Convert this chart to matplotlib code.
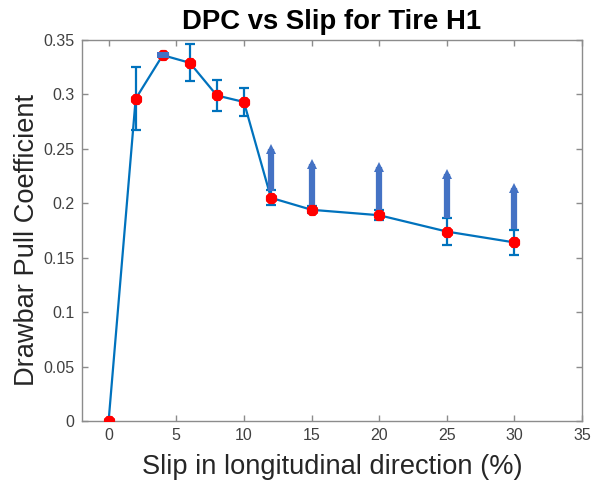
import matplotlib
matplotlib.use("Agg")
import matplotlib.pyplot as plt
import numpy as np

# Drawbar pull coefficient measured at each slip level
slip = [0, 2, 4, 6, 8, 10, 12, 15, 20, 25, 30]
dpc = [0.0, 0.296, 0.336, 0.329, 0.299, 0.293, 0.205, 0.194, 0.189, 0.174, 0.164]
dpc_err = [0.0, 0.029, 0.001, 0.017, 0.0145, 0.0125, 0.007, 0.0032, 0.0048, 0.0125, 0.0118]

# Range arrows added above the upper error bound
arrow_slip = [12, 15, 20, 25, 30]
arrow_low = [0.211, 0.1975, 0.194, 0.1865, 0.176]
arrow_high = [0.250, 0.2365, 0.2335, 0.2265, 0.2143]
stub_slip = [4]
stub_val = [0.336]

line_blue = "#0072BD"
arrow_blue = "#4472C4"
axis_gray = "#8c8c8c"
text_gray = "#404040"

plt.rcParams["font.family"] = ["Liberation Sans", "DejaVu Sans"]

fig = plt.figure(figsize=(5.91, 4.87), dpi=100)
ax = fig.add_axes([0.138, 0.1355, 0.847, 0.7825])

ax.errorbar(slip, dpc, yerr=dpc_err, color=line_blue, linewidth=1.6,
            elinewidth=1.6, capsize=3.5, capthick=1.6, zorder=3)

# Thick arrows showing the extended range
ax.vlines(arrow_slip, arrow_low, arrow_high, colors=arrow_blue,
          linewidth=4.5, zorder=4)
ax.plot(arrow_slip, arrow_high, linestyle="none", marker="^", markersize=6.5,
        color=arrow_blue, markeredgewidth=0, zorder=4)
ax.plot(stub_slip, stub_val, linestyle="none",
        marker=[(-2, -1), (2, -1), (2, 1), (-2, 1), (-2, -1)],
        markersize=8, color=arrow_blue, markeredgewidth=0, zorder=6)

# Measured points (red asterisks)
ax.plot(slip, dpc, linestyle="none", marker=(8, 2, 0), markersize=8,
        markeredgewidth=2.8, color="red", zorder=5)

ax.set_xlim(-2, 35)
ax.set_ylim(0, 0.35)
ax.set_xticks(np.arange(0, 36, 5))
ax.set_yticks(np.arange(0, 0.351, 0.05))
ax.set_yticklabels(["0", "0.05", "0.1", "0.15", "0.2", "0.25", "0.3", "0.35"])

for s in ax.spines.values():
    s.set_color(axis_gray)
    s.set_linewidth(1.0)
ax.tick_params(direction="in", length=4, width=1.0, color=axis_gray,
               labelcolor=text_gray, labelsize=11.5, top=True, right=True,
               pad=5)

ax.set_title("DPC vs Slip for Tire H1", fontsize=19.8, fontweight="bold",
             pad=8)
ax.set_xlabel("Slip in longitudinal direction (%)", fontsize=19.6,
              color="#262626", labelpad=8)
ax.set_ylabel("Drawbar Pull Coefficient", fontsize=19.6, color="#262626")
ax.yaxis.set_label_coords(-0.083, 0.475)

fig.savefig("out.png", dpi=100)
